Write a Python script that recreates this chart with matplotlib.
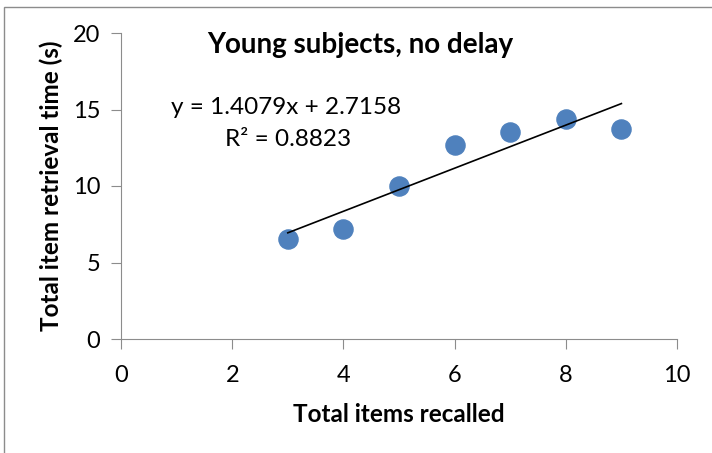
import matplotlib
matplotlib.use("Agg")
import matplotlib.pyplot as plt
from matplotlib.patches import Rectangle

items_recalled = [3, 4, 5, 6, 7, 8, 9]
retrieval_time = [6.55, 7.2, 9.98, 12.65, 13.55, 14.35, 13.75]
slope = 1.4079
intercept = 2.7158
r_squared = 0.8823
x_ticks = [0, 2, 4, 6, 8, 10]
y_ticks = [0, 5, 10, 15, 20]

plt.rcParams['font.family'] = ['Lato', 'DejaVu Sans']

fig = plt.figure(figsize=(7.12, 4.53), dpi=100)
fig.patches.append(Rectangle((4 / 712, -0.05), 1.2, 1 - 7 / 453 + 0.05,
                             transform=fig.transFigure, fill=False,
                             edgecolor='#8c8c8c', lw=1.0))
ax = fig.add_axes([121 / 712, 1 - 339 / 453, (677 - 121) / 712, (339 - 33) / 453])

ax.scatter(items_recalled, retrieval_time, s=190, color='#4F81BD', zorder=3)
fit_x = [items_recalled[0], items_recalled[-1]]
fit_y = [slope * v + intercept for v in fit_x]
ax.plot(fit_x, fit_y, color='black', lw=1.2, zorder=4)

ax.set_xlim(0, 10)
ax.set_ylim(0, 20)
ax.set_xticks(x_ticks)
ax.set_yticks(y_ticks)
for s in ['top', 'right']:
    ax.spines[s].set_visible(False)
for s in ['left', 'bottom']:
    ax.spines[s].set_color('#8c8c8c')
ax.tick_params(colors='#8c8c8c', labelcolor='black', labelsize=17, length=7,
               direction='out')
ax.tick_params(axis='x', pad=12)
ax.tick_params(axis='y', pad=8)

ax.set_xlabel('Total items recalled', fontsize=17.5, fontweight='bold', labelpad=12)
ax.set_ylabel('Total item retrieval time (s)', fontsize=17.5, fontweight='bold',
              labelpad=7)
fig.text(360 / 712, 1 - 45 / 453, 'Young subjects, no delay', fontsize=20,
         fontweight='bold', ha='center', va='center')
fig.text(286 / 712, 1 - 108 / 453, f'y = {slope}x + {intercept}', fontsize=17.5,
         ha='center', va='center')
fig.text(288 / 712, 1 - 140 / 453, f'R² = {r_squared}', fontsize=17.5,
         ha='center', va='center')

fig.savefig('out.png', dpi=100)
